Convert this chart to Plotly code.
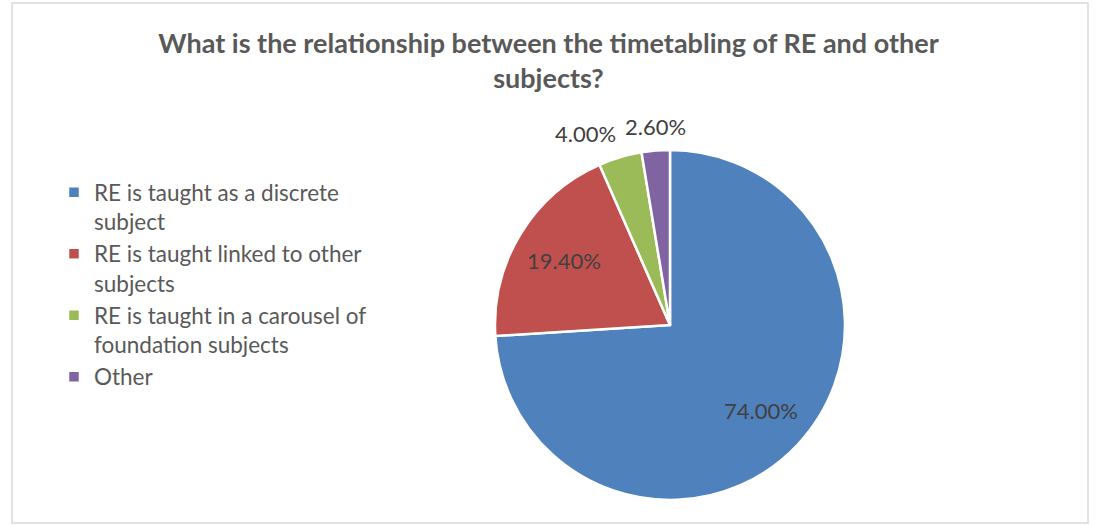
import math
import plotly.graph_objects as go

categories = [
    "RE is taught as a discrete<br>subject",
    "RE is taught linked to other<br>subjects",
    "RE is taught in a carousel of<br>foundation subjects",
    "Other",
]
values = [74.0, 19.4, 4.0, 2.6]
label_text = ["74.00%", "19.40%", "4.00%", "2.60%"]
colors = ["#4F81BD", "#C0504D", "#9BBB59", "#8064A2"]
label_inside = [True, True, False, False]

W, H = 1097, 526
FONT = "Lato"
TEXT_COLOR = "#404040"

# pie placement (pixels)
CX, CY, R = 670, 325, 175
dom_x = [(CX - R) / W, (CX + R) / W]
dom_y = [1 - (CY + R) / H, 1 - (CY - R) / H]

fig = go.Figure()
fig.add_trace(go.Pie(
    labels=categories,
    values=values,
    textinfo="none",
    marker=dict(colors=colors, line=dict(color="white", width=2.5)),
    sort=False,
    direction="clockwise",
    rotation=0,
    domain=dict(x=dom_x, y=dom_y),
    hoverinfo="label+percent",
))

# data labels positioned from the slice mid-angles
annotations = []
total = sum(values)
cum = 0.0
for v, t, ins in zip(values, label_text, label_inside):
    mid = (cum + v / 2) / total * 2 * math.pi  # clockwise from 12 o'clock
    cum += v
    s, c = math.sin(mid), math.cos(mid)
    if ins:
        rr = R * 0.71
        px, py = CX + rr * s, CY - rr * c
        xanchor, yanchor = "center", "middle"
    else:
        rr = R * 1.05
        px, py = CX + rr * s, CY - rr * c
        xanchor = "center" if abs(s) < 0.15 else ("right" if s < 0 else "left")
        yanchor = "bottom"
    annotations.append(dict(
        x=px / W, y=1 - py / H, xref="paper", yref="paper",
        text=t, showarrow=False, xanchor=xanchor, yanchor=yanchor,
        font=dict(family=FONT, size=22, color=TEXT_COLOR),
    ))

fig.update_layout(
    width=W, height=H,
    margin=dict(l=0, r=0, t=0, b=0),
    paper_bgcolor="white",
    plot_bgcolor="white",
    font=dict(family=FONT, color="#595959"),
    title=dict(
        text="<b>What is the relationship between the timetabling of RE and other<br>subjects?</b>",
        x=0.5, xanchor="center",
        y=1 - 53 / H, yanchor="top", yref="container",
        font=dict(family=FONT, size=27, color="#595959"),
    ),
    legend=dict(
        x=54 / W, xanchor="left",
        y=1 - 171 / H, yanchor="top",
        font=dict(family=FONT, size=22.5, color="#595959"),
        valign="top",
        bgcolor="rgba(0,0,0,0)",
    ),
    annotations=annotations,
    shapes=[dict(
        type="rect", xref="paper", yref="paper",
        x0=12 / W, x1=1088 / W, y0=1 - 523 / H, y1=1 - 3 / H,
        line=dict(color="#D9D9D9", width=1.5),
        fillcolor="rgba(0,0,0,0)",
        layer="below",
    )],
)

fig.write_html("out.html")
